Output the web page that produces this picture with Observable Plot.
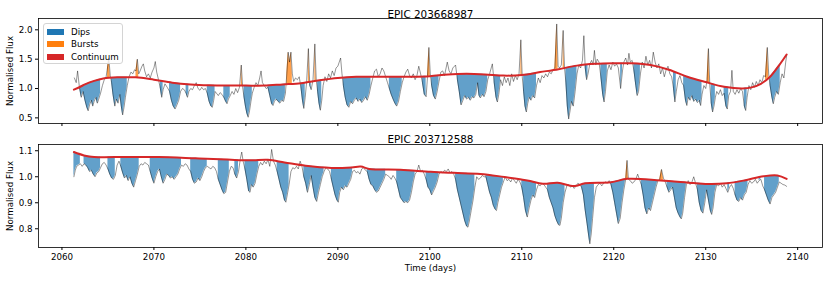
<!DOCTYPE html>
<html><head><meta charset="utf-8">
<script src="https://cdn.jsdelivr.net/npm/d3@7"></script>
<script src="https://cdn.jsdelivr.net/npm/@observablehq/plot@0.6"></script>
<style>
body{margin:0;background:#fff;font-family:"DejaVu Sans",sans-serif;}
#wrap{position:relative;width:831px;height:281px;overflow:hidden;}
#wrap svg{display:block;}
.legend{position:absolute;left:43px;top:23px;width:80px;height:41px;border:1px solid #d4d4d4;border-radius:3px;background:rgba(255,255,255,0.85);font-size:8.7px;box-sizing:border-box;color:#000;}
.legend .sw{position:absolute;left:3px;width:17px;height:6px;}
.legend .lab{position:absolute;left:27px;line-height:10px;white-space:nowrap;}
.ylab{position:absolute;left:10px;width:0;height:0;font-size:8.7px;color:#000;}
.ylab span{position:absolute;left:0;top:0;white-space:nowrap;transform:translate(-50%,-50%) rotate(-90deg);line-height:10px;}
</style></head>
<body>
<div id="wrap"></div>
<script>
// ---------- Data: EPIC 203668987 ----------
const title1 = "EPIC 203668987";
const flux1 = [[2061.35,1.18],[2061.55,1.10],[2061.7,1.30],[2061.9,1.02],[2062.1,0.85],[2062.3,0.95],[2062.5,0.80],[2062.7,0.68],[2062.85,0.62],[2063.0,0.72],[2063.2,0.80],[2063.35,0.70],[2063.5,0.78],[2063.7,0.85],[2063.85,0.75],[2064.0,0.82],[2064.2,0.92],[2064.4,1.05],[2064.6,1.15],[2064.8,1.20],[2064.95,1.35],[2065.1,1.52],[2065.25,1.22],[2065.4,1.10],[2065.55,0.90],[2065.75,0.70],[2065.9,0.82],[2066.1,0.75],[2066.3,0.90],[2066.45,0.70],[2066.6,0.55],[2066.75,0.68],[2066.9,0.85],[2067.1,1.05],[2067.3,1.20],[2067.5,1.28],[2067.7,1.25],[2067.9,1.32],[2068.05,1.30],[2068.2,1.50],[2068.35,1.25],[2068.5,1.30],[2068.7,1.38],[2068.85,1.42],[2069.0,1.30],[2069.2,1.20],[2069.4,1.25],[2069.6,1.18],[2069.8,1.28],[2070.0,1.35],[2070.15,1.46],[2070.3,1.28],[2070.5,1.15],[2070.7,1.00],[2070.85,0.85],[2071.0,0.98],[2071.2,1.08],[2071.45,1.02],[2071.7,0.95],[2071.9,0.80],[2072.1,0.70],[2072.3,0.65],[2072.5,0.72],[2072.7,0.80],[2072.9,0.95],[2073.1,1.00],[2073.3,0.98],[2073.5,0.92],[2073.65,0.85],[2073.8,0.95],[2074.0,1.00],[2074.2,0.98],[2074.4,1.05],[2074.6,1.10],[2074.8,1.00],[2075.0,0.97],[2075.2,1.02],[2075.4,0.98],[2075.6,1.00],[2075.8,0.92],[2076.0,0.78],[2076.2,0.70],[2076.35,0.68],[2076.5,0.80],[2076.65,0.95],[2076.8,0.92],[2077.0,0.88],[2077.2,0.93],[2077.4,0.90],[2077.6,0.85],[2077.8,0.78],[2077.95,0.74],[2078.1,0.82],[2078.3,0.88],[2078.5,0.95],[2078.7,0.90],[2078.9,1.00],[2079.1,0.93],[2079.3,1.02],[2079.5,1.40],[2079.65,1.02],[2079.8,0.85],[2079.95,0.70],[2080.1,0.58],[2080.25,0.51],[2080.4,0.62],[2080.55,0.78],[2080.7,0.92],[2080.9,1.02],[2081.1,1.10],[2081.3,1.05],[2081.5,1.18],[2081.65,1.30],[2081.8,1.10],[2082.0,1.05],[2082.2,1.00],[2082.4,1.02],[2082.6,0.88],[2082.8,0.74],[2082.95,0.71],[2083.1,0.78],[2083.3,0.82],[2083.5,0.78],[2083.7,0.75],[2083.9,0.80],[2084.1,0.78],[2084.3,0.92],[2084.45,1.25],[2084.6,1.62],[2084.75,1.45],[2084.9,1.62],[2085.05,1.25],[2085.2,1.12],[2085.4,1.18],[2085.6,1.15],[2085.8,1.20],[2086.0,1.00],[2086.15,0.80],[2086.3,0.66],[2086.45,0.85],[2086.6,1.10],[2086.8,1.68],[2086.95,1.05],[2087.1,0.98],[2087.3,1.15],[2087.5,1.76],[2087.65,1.15],[2087.8,0.95],[2087.95,0.75],[2088.1,0.63],[2088.25,0.80],[2088.4,1.05],[2088.6,1.20],[2088.8,1.12],[2089.0,1.25],[2089.2,1.18],[2089.4,1.30],[2089.6,1.22],[2089.8,1.35],[2090.0,1.38],[2090.15,1.45],[2090.3,1.52],[2090.45,1.25],[2090.6,1.05],[2090.8,0.85],[2091.0,0.72],[2091.2,0.68],[2091.4,0.78],[2091.6,0.74],[2091.8,0.80],[2092.0,0.84],[2092.2,0.78],[2092.4,0.82],[2092.6,0.76],[2092.8,0.80],[2093.0,0.86],[2093.2,0.80],[2093.4,0.90],[2093.6,1.05],[2093.8,1.18],[2094.0,1.30],[2094.2,1.33],[2094.4,1.20],[2094.6,1.25],[2094.8,1.35],[2095.0,1.30],[2095.2,1.20],[2095.4,1.10],[2095.6,1.00],[2095.8,0.90],[2096.0,0.82],[2096.2,0.75],[2096.4,0.70],[2096.6,0.78],[2096.8,0.95],[2097.0,1.10],[2097.2,1.20],[2097.4,1.28],[2097.6,1.33],[2097.8,1.22],[2098.0,1.18],[2098.2,1.25],[2098.4,1.15],[2098.6,1.22],[2098.8,1.38],[2099.0,1.25],[2099.2,1.10],[2099.4,0.90],[2099.6,0.86],[2099.75,1.20],[2099.9,1.70],[2100.05,1.25],[2100.2,1.05],[2100.4,0.88],[2100.6,0.82],[2100.8,0.95],[2101.0,1.12],[2101.2,1.28],[2101.4,1.30],[2101.6,1.22],[2101.9,1.45],[2102.1,1.30],[2102.3,1.25],[2102.5,1.35],[2102.8,1.40],[2103.0,1.15],[2103.2,0.95],[2103.4,0.72],[2103.6,0.80],[2103.8,0.88],[2104.0,0.82],[2104.2,0.85],[2104.4,0.80],[2104.6,0.86],[2104.8,0.84],[2105.0,0.90],[2105.2,1.10],[2105.35,0.88],[2105.5,0.84],[2105.7,0.90],[2105.9,0.86],[2106.1,0.95],[2106.3,1.15],[2106.5,1.25],[2106.8,1.42],[2107.0,1.10],[2107.2,0.85],[2107.35,0.77],[2107.5,0.90],[2107.7,1.15],[2107.9,1.05],[2108.1,1.20],[2108.3,1.10],[2108.5,1.18],[2108.7,1.05],[2108.9,1.25],[2109.1,1.12],[2109.3,1.22],[2109.5,1.15],[2109.7,1.25],[2109.9,1.83],[2110.05,1.20],[2110.2,0.95],[2110.35,0.70],[2110.5,0.60],[2110.65,0.75],[2110.8,0.85],[2111.0,0.80],[2111.2,0.88],[2111.4,0.84],[2111.6,1.05],[2111.8,1.18],[2112.0,1.10],[2112.2,1.22],[2112.4,1.18],[2112.6,1.25],[2112.8,1.20],[2113.0,1.28],[2113.2,1.25],[2113.4,1.32],[2113.6,1.35],[2113.8,2.10],[2113.95,1.38],[2114.1,1.35],[2114.3,1.40],[2114.5,1.99],[2114.65,1.35],[2114.8,1.10],[2114.95,0.70],[2115.1,0.48],[2115.25,0.62],[2115.4,0.78],[2115.6,0.70],[2115.8,0.95],[2116.0,1.25],[2116.2,1.40],[2116.4,1.35],[2116.6,1.48],[2116.75,1.90],[2116.9,1.35],[2117.05,1.15],[2117.2,1.25],[2117.4,1.42],[2117.6,1.48],[2117.75,1.40],[2117.9,1.65],[2118.05,1.40],[2118.2,1.50],[2118.4,1.45],[2118.6,1.20],[2118.8,0.90],[2118.95,0.77],[2119.1,0.95],[2119.3,1.30],[2119.5,1.40],[2119.7,1.32],[2119.9,1.45],[2120.1,1.38],[2120.3,1.42],[2120.5,1.35],[2120.75,1.00],[2120.95,1.30],[2121.1,1.45],[2121.3,1.52],[2121.5,1.40],[2121.65,1.60],[2121.8,1.45],[2122.0,1.48],[2122.2,1.30],[2122.4,1.05],[2122.55,0.88],[2122.7,0.95],[2122.9,1.25],[2123.1,1.45],[2123.3,1.35],[2123.5,1.55],[2123.7,1.40],[2123.9,1.48],[2124.1,1.35],[2124.3,1.62],[2124.5,1.45],[2124.7,1.35],[2124.9,1.42],[2125.1,1.25],[2125.3,1.35],[2125.5,1.20],[2125.7,1.32],[2125.9,1.38],[2126.1,1.25],[2126.3,1.20],[2126.5,1.00],[2126.65,0.77],[2126.8,0.95],[2127.0,1.15],[2127.2,1.22],[2127.4,1.10],[2127.6,1.05],[2127.8,0.80],[2127.95,0.71],[2128.1,0.85],[2128.3,0.80],[2128.5,0.88],[2128.7,0.78],[2128.9,0.82],[2129.1,0.76],[2129.3,0.80],[2129.45,0.71],[2129.6,0.90],[2129.8,1.05],[2130.0,1.00],[2130.15,1.15],[2130.3,1.68],[2130.45,1.05],[2130.6,0.75],[2130.75,0.60],[2130.9,0.70],[2131.05,0.85],[2131.2,0.95],[2131.4,0.90],[2131.6,0.98],[2131.8,0.88],[2132.0,0.92],[2132.2,0.70],[2132.35,0.65],[2132.5,0.88],[2132.7,0.95],[2132.85,1.31],[2133.0,0.95],[2133.2,0.90],[2133.4,0.98],[2133.6,0.92],[2133.8,1.00],[2134.0,0.95],[2134.2,0.70],[2134.35,0.625],[2134.5,0.85],[2134.7,1.05],[2134.9,0.98],[2135.1,1.10],[2135.3,1.02],[2135.5,1.12],[2135.7,1.05],[2135.9,1.15],[2136.1,1.10],[2136.3,1.22],[2136.5,1.20],[2136.7,1.70],[2136.85,1.25],[2137.0,1.05],[2137.2,0.85],[2137.35,0.74],[2137.5,0.85],[2137.7,0.95],[2137.9,0.90],[2138.1,1.10],[2138.3,1.25],[2138.5,1.18],[2138.7,1.45],[2138.8,1.56]];
const cont1 = [[2061.3,0.98],[2062.0,1.03],[2062.5,1.07],[2063.5,1.13],[2064.5,1.17],[2066,1.19],[2068,1.19],[2070,1.15],[2072,1.10],[2074,1.07],[2076,1.055],[2078,1.05],[2080,1.05],[2082,1.05],[2084,1.07],[2086,1.09],[2088,1.14],[2090,1.18],[2092,1.20],[2094,1.20],[2096,1.20],[2098,1.20],[2100,1.21],[2102,1.24],[2104,1.25],[2106,1.24],[2108,1.22],[2110,1.23],[2112,1.28],[2114,1.33],[2116,1.39],[2118,1.42],[2120,1.43],[2122,1.43],[2124,1.40],[2126,1.32],[2128,1.20],[2130,1.11],[2132,1.03],[2134,1.00],[2135,1.02],[2136,1.08],[2137,1.20],[2138,1.40],[2138.8,1.58]];
const dips1 = [[2061.85,2064.3],[2065.3,2067.1],[2070.6,2071.1],[2071.7,2073.0],[2073.4,2073.9],[2075.7,2076.7],[2077.5,2078.4],[2079.7,2080.8],[2082.4,2084.35],[2085.95,2086.55],[2086.95,2087.2],[2087.75,2088.35],[2090.5,2093.7],[2095.5,2097.0],[2099.2,2099.7],[2100.15,2101.0],[2103.0,2106.3],[2107.0,2107.7],[2110.1,2111.7],[2114.75,2116.0],[2116.9,2117.3],[2118.6,2119.3],[2120.6,2121.0],[2122.2,2122.9],[2126.4,2126.9],[2127.6,2129.7],[2130.5,2131.1],[2132.0,2132.6],[2134.1,2134.6],[2137.0,2138.1]];
const bursts1 = [[2064.9,2065.3],[2068.05,2068.35],[2079.4,2079.65],[2084.4,2085.1],[2086.65,2086.95],[2087.35,2087.65],[2099.75,2100.05],[2109.75,2110.05],[2113.6,2113.95],[2114.35,2114.65],[2130.15,2130.45],[2136.5,2136.85]];
const yTicks1 = [0.5, 1.0, 1.5, 2.0];

// ---------- Data: EPIC 203712588 ----------
const title2 = "EPIC 203712588";
const flux2 = [[2061.3,1.0],[2061.45,1.025],[2061.6,1.04],[2061.8,1.045],[2062.0,1.05],[2062.2,1.04],[2062.4,1.05],[2062.6,1.045],[2062.8,1.035],[2063.0,1.02],[2063.2,1.025],[2063.4,1.01],[2063.6,1.0],[2063.8,1.015],[2064.0,1.02],[2064.2,1.035],[2064.4,1.05],[2064.6,1.055],[2064.8,1.045],[2065.0,1.03],[2065.2,1.01],[2065.4,0.995],[2065.6,0.99],[2065.8,1.005],[2066.0,1.045],[2066.2,1.06],[2066.4,1.04],[2066.6,1.015],[2066.8,0.995],[2067.0,1.005],[2067.2,0.985],[2067.4,1.0],[2067.6,0.975],[2067.8,0.96],[2068.0,0.985],[2068.2,1.01],[2068.4,1.04],[2068.6,1.05],[2068.8,1.045],[2069.0,1.055],[2069.2,1.05],[2069.4,1.045],[2069.6,1.02],[2069.8,0.995],[2070.0,0.975],[2070.2,1.0],[2070.4,1.02],[2070.6,1.03],[2070.8,1.0],[2071.0,0.975],[2071.2,0.99],[2071.4,1.01],[2071.6,1.005],[2071.8,0.995],[2072.0,1.0],[2072.2,0.99],[2072.4,1.0],[2072.6,1.01],[2072.8,1.03],[2073.0,1.045],[2073.2,1.04],[2073.4,1.05],[2073.6,1.045],[2073.8,1.03],[2074.0,1.02],[2074.2,0.99],[2074.4,0.975],[2074.6,0.98],[2074.8,0.995],[2075.0,0.985],[2075.2,1.0],[2075.4,1.02],[2075.6,1.035],[2075.8,1.04],[2076.0,1.035],[2076.2,1.03],[2076.4,1.04],[2076.6,1.035],[2076.8,1.02],[2077.0,0.99],[2077.2,0.97],[2077.4,0.95],[2077.6,0.935],[2077.8,0.94],[2078.0,0.98],[2078.2,1.02],[2078.4,1.04],[2078.6,1.035],[2078.8,1.01],[2079.0,0.995],[2079.2,1.02],[2079.4,1.07],[2079.55,1.095],[2079.7,1.06],[2079.9,1.03],[2080.1,0.99],[2080.3,0.945],[2080.45,0.94],[2080.6,0.97],[2080.8,0.96],[2081.0,0.975],[2081.2,1.01],[2081.4,1.04],[2081.6,1.055],[2081.8,1.045],[2082.0,1.06],[2082.2,1.05],[2082.4,1.065],[2082.6,1.04],[2082.8,1.105],[2083.0,1.06],[2083.2,1.045],[2083.4,1.02],[2083.6,0.99],[2083.8,0.96],[2084.0,0.94],[2084.2,0.91],[2084.35,0.902],[2084.5,0.93],[2084.7,0.97],[2084.9,1.02],[2085.1,1.035],[2085.3,1.03],[2085.5,1.04],[2085.7,1.03],[2085.9,1.06],[2086.1,1.04],[2086.3,1.0],[2086.5,0.975],[2086.7,0.94],[2086.9,0.97],[2087.1,1.005],[2087.3,0.96],[2087.5,0.92],[2087.7,0.905],[2087.9,0.94],[2088.1,0.97],[2088.3,1.0],[2088.5,1.02],[2088.7,1.035],[2088.9,1.03],[2089.1,1.02],[2089.3,0.99],[2089.5,0.96],[2089.7,0.93],[2089.9,0.91],[2090.05,0.902],[2090.2,0.94],[2090.4,0.96],[2090.6,0.95],[2090.8,0.965],[2091.0,0.96],[2091.2,0.975],[2091.4,0.99],[2091.6,1.02],[2091.8,1.025],[2092.0,1.015],[2092.2,1.02],[2092.4,1.01],[2092.6,1.03],[2092.8,1.035],[2093.0,1.025],[2093.2,1.02],[2093.4,0.99],[2093.6,0.97],[2093.8,0.965],[2094.0,0.95],[2094.2,0.94],[2094.4,0.945],[2094.6,0.96],[2094.8,0.975],[2095.0,0.99],[2095.2,1.01],[2095.4,1.005],[2095.6,1.0],[2095.8,0.99],[2096.0,1.005],[2096.2,0.995],[2096.4,0.98],[2096.6,0.95],[2096.8,0.92],[2097.0,0.91],[2097.2,0.9],[2097.4,0.905],[2097.6,0.9],[2097.8,0.91],[2098.0,0.94],[2098.2,0.98],[2098.4,1.01],[2098.6,1.02],[2098.8,1.045],[2099.0,1.02],[2099.2,1.025],[2099.4,1.01],[2099.6,0.99],[2099.8,0.96],[2100.0,0.95],[2100.2,0.93],[2100.4,0.945],[2100.6,0.96],[2100.8,0.98],[2101.0,1.01],[2101.2,1.02],[2101.4,1.015],[2101.6,1.025],[2101.8,1.02],[2102.0,1.03],[2102.2,1.015],[2102.4,1.02],[2102.6,1.01],[2102.8,0.99],[2103.0,0.95],[2103.2,0.92],[2103.4,0.89],[2103.6,0.86],[2103.8,0.83],[2104.0,0.81],[2104.15,0.806],[2104.3,0.83],[2104.5,0.87],[2104.7,0.91],[2104.9,0.96],[2105.1,1.0],[2105.3,0.99],[2105.5,0.995],[2105.7,1.005],[2105.9,1.0],[2106.1,1.0],[2106.3,0.97],[2106.5,0.94],[2106.7,0.92],[2106.9,0.89],[2107.1,0.875],[2107.25,0.87],[2107.4,0.9],[2107.6,0.93],[2107.8,0.96],[2108.0,0.98],[2108.2,1.0],[2108.4,0.985],[2108.6,0.99],[2108.8,0.98],[2109.0,0.995],[2109.2,0.985],[2109.4,0.975],[2109.6,0.99],[2109.8,0.98],[2110.0,0.96],[2110.2,0.92],[2110.4,0.87],[2110.6,0.845],[2110.8,0.88],[2111.0,0.91],[2111.2,0.93],[2111.4,0.92],[2111.6,0.95],[2111.8,0.97],[2112.0,0.965],[2112.2,0.975],[2112.4,0.97],[2112.6,0.96],[2112.8,0.95],[2113.0,0.92],[2113.2,0.9],[2113.4,0.88],[2113.6,0.85],[2113.8,0.83],[2114.0,0.815],[2114.15,0.813],[2114.3,0.84],[2114.5,0.9],[2114.7,0.94],[2114.9,0.965],[2115.1,0.97],[2115.3,0.96],[2115.5,0.965],[2115.7,0.955],[2115.9,0.965],[2116.1,0.975],[2116.3,0.97],[2116.5,0.96],[2116.7,0.93],[2116.9,0.87],[2117.1,0.82],[2117.25,0.78],[2117.4,0.742],[2117.55,0.78],[2117.7,0.84],[2117.9,0.92],[2118.1,0.96],[2118.3,0.97],[2118.5,0.975],[2118.7,0.965],[2118.9,0.975],[2119.1,0.98],[2119.3,0.975],[2119.5,0.985],[2119.7,0.97],[2119.9,0.94],[2120.1,0.9],[2120.3,0.86],[2120.5,0.82],[2120.7,0.84],[2120.9,0.9],[2121.1,0.95],[2121.3,0.99],[2121.45,1.063],[2121.6,0.99],[2121.8,0.985],[2122.0,0.975],[2122.2,0.98],[2122.4,0.99],[2122.6,1.01],[2122.8,0.99],[2123.0,0.97],[2123.2,0.93],[2123.4,0.88],[2123.6,0.857],[2123.8,0.88],[2124.0,0.87],[2124.2,0.9],[2124.4,0.93],[2124.6,0.96],[2124.8,0.985],[2125.0,0.99],[2125.2,1.028],[2125.4,0.995],[2125.6,0.98],[2125.8,0.96],[2126.0,0.94],[2126.2,0.95],[2126.4,0.96],[2126.6,0.92],[2126.8,0.88],[2127.0,0.86],[2127.2,0.845],[2127.35,0.838],[2127.5,0.86],[2127.7,0.92],[2127.9,0.97],[2128.1,0.985],[2128.3,0.97],[2128.5,0.98],[2128.7,1.0],[2128.9,0.975],[2129.1,0.95],[2129.3,0.9],[2129.5,0.87],[2129.7,0.86],[2129.9,0.9],[2130.1,0.95],[2130.3,0.91],[2130.5,0.87],[2130.65,0.855],[2130.8,0.88],[2131.0,0.94],[2131.2,0.97],[2131.4,0.965],[2131.6,0.975],[2131.8,0.96],[2132.0,0.97],[2132.2,0.955],[2132.4,0.94],[2132.6,0.96],[2132.8,0.97],[2133.0,0.955],[2133.2,0.93],[2133.4,0.91],[2133.6,0.905],[2133.8,0.92],[2134.0,0.91],[2134.2,0.93],[2134.4,0.94],[2134.6,0.97],[2134.8,0.985],[2135.0,0.975],[2135.2,0.98],[2135.4,0.99],[2135.6,0.975],[2135.8,0.985],[2136.0,0.99],[2136.2,0.965],[2136.4,0.95],[2136.6,0.93],[2136.8,0.91],[2137.0,0.895],[2137.2,0.92],[2137.4,0.93],[2137.6,0.94],[2137.8,0.96],[2138.0,0.98],[2138.2,0.975],[2138.4,0.97],[2138.6,0.968],[2138.8,0.963]];
const cont2 = [[2061.3,1.095],[2062.4,1.082],[2063.5,1.076],[2067,1.076],[2070.5,1.076],[2074.5,1.071],[2078,1.066],[2080.5,1.063],[2082.4,1.065],[2084.2,1.055],[2086.5,1.042],[2089.3,1.034],[2091.5,1.036],[2092.5,1.039],[2093.4,1.03],[2096.8,1.027],[2100.1,1.019],[2102.6,1.015],[2105.5,1.011],[2108.1,0.999],[2110.6,0.986],[2112.3,0.973],[2113.9,0.977],[2115.7,0.964],[2116.9,0.975],[2119.7,0.979],[2121.5,0.992],[2125.1,0.986],[2128.7,0.976],[2130.5,0.972],[2132.3,0.975],[2134.2,0.986],[2136.3,1.002],[2137.8,1.005],[2138.8,0.992]];
const dips2 = [[2061.3,2062.0],[2062.3,2064.3],[2065.0,2065.9],[2066.4,2068.4],[2069.5,2073.0],[2074.0,2075.8],[2077.0,2078.2],[2078.7,2079.3],[2079.8,2081.4],[2083.3,2084.8],[2086.2,2088.5],[2089.2,2091.6],[2093.2,2095.2],[2096.4,2098.5],[2099.5,2101.0],[2102.8,2105.0],[2106.1,2108.1],[2110.0,2111.7],[2112.8,2114.8],[2116.5,2118.0],[2119.7,2121.3],[2122.9,2124.8],[2125.7,2127.9],[2129.0,2131.2],[2132.3,2132.7],[2133.1,2134.7],[2135.8,2136.1],[2136.3,2138.0]];
const bursts2 = [[2121.3,2121.6],[2125.0,2125.4]];
const yTicks2 = [0.8, 0.9, 1.0, 1.1];

const xTicks = [2060, 2070, 2080, 2090, 2100, 2110, 2120, 2130, 2140];
const xLabel = "Time (days)";
const yLabel = "Normalised Flux";
const legendItems = [["Dips", "#1f77b4"], ["Bursts", "#ff7f0e"], ["Continuum", "#d62728"]];

// ---------- Rendering ----------
function interp(pairs, x) {
  if (x <= pairs[0][0]) return pairs[0][1];
  for (let i = 1; i < pairs.length; i++) {
    if (x <= pairs[i][0]) {
      const [x0, y0] = pairs[i - 1], [x1, y1] = pairs[i];
      return y0 + (y1 - y0) * (x - x0) / (x1 - x0);
    }
  }
  return pairs[pairs.length - 1][1];
}
const inAny = (iv, t) => iv.some(([a, b]) => t >= a && t <= b);

function panel(o) {
  const rows = o.flux.map(([t, f]) => ({t, f, c: interp(o.cont, t)}));
  const dipRows = rows.map(d => ({t: d.t, c: d.c, y2: inAny(o.dips, d.t) ? Math.min(d.f, d.c) : NaN}));
  const burstRows = rows.map(d => ({t: d.t, c: d.c, y2: inAny(o.bursts, d.t) ? Math.max(d.f, d.c) : NaN}));
  const marks = [
    Plot.areaY(dipRows, {x: "t", y1: "c", y2: "y2", fill: "#1f77b4", fillOpacity: 0.7}),
    Plot.areaY(burstRows, {x: "t", y1: "c", y2: "y2", fill: "#ff7f0e", fillOpacity: 0.75}),
    Plot.line(rows, {x: "t", y: "f", stroke: "#000", strokeOpacity: 0.6, strokeWidth: 0.7}),
    Plot.line(o.cont, {x: d => d[0], y: d => d[1], stroke: "#d62728", strokeWidth: 2, curve: "catmull-rom"}),
    Plot.frame({stroke: "#000", strokeWidth: 0.8}),
    Plot.axisY({ticks: o.yTicks, tickFormat: d3.format(".1f"), tickSize: 3, tickPadding: 3, label: null}),
    Plot.axisX({ticks: xTicks, tickSize: 3, tickPadding: 3, label: null, tickFormat: o.xLabels ? (d => String(d)) : (() => "")}),
    Plot.text([o.title], {text: d => d, frameAnchor: "top", dy: o.titleDy, fontSize: 10.4})
  ];
  if (o.xLabels) marks.push(Plot.text([xLabel], {text: d => d, frameAnchor: "bottom", dy: 23}));
  return Plot.plot({
    width: 831, height: o.height,
    marginLeft: 38, marginRight: 9, marginTop: o.marginTop, marginBottom: o.marginBottom,
    x: {domain: [2057.45, 2142.7], label: null},
    y: {domain: o.yDomain, label: null},
    style: {fontFamily: "DejaVu Sans", fontSize: "8.7px", color: "#000", background: "#fff"},
    marks
  });
}

const wrap = document.getElementById("wrap");
wrap.append(panel({flux: flux1, cont: cont1, dips: dips1, bursts: bursts1, yTicks: yTicks1,
  yDomain: [0.404, 2.193], height: 130, marginTop: 18, marginBottom: 7, title: title1, titleDy: -8, xLabels: false}));
wrap.append(panel({flux: flux2, cont: cont2, dips: dips2, bursts: bursts2, yTicks: yTicks2,
  yDomain: [0.728, 1.124], height: 151, marginTop: 14, marginBottom: 34, title: title2, titleDy: -9, xLabels: true}));

// y-axis labels (centred on each panel's frame)
[70.5, 195.5].forEach(cy => {
  const d = document.createElement("div");
  d.className = "ylab"; d.style.top = cy + "px";
  const s = document.createElement("span"); s.textContent = yLabel;
  d.append(s); wrap.append(d);
});

const lg = document.createElement("div");
lg.className = "legend";
const rowTops = [8, 20.5, 33];
legendItems.forEach(([name, color], i) => {
  const sw = document.createElement("div");
  sw.className = "sw"; sw.style.top = (rowTops[i] - 3.5) + "px"; sw.style.background = color;
  const lab = document.createElement("div");
  lab.className = "lab"; lab.style.top = (rowTops[i] - 5.5) + "px"; lab.textContent = name;
  lg.append(sw, lab);
});
wrap.append(lg);
</script>
</body></html>
